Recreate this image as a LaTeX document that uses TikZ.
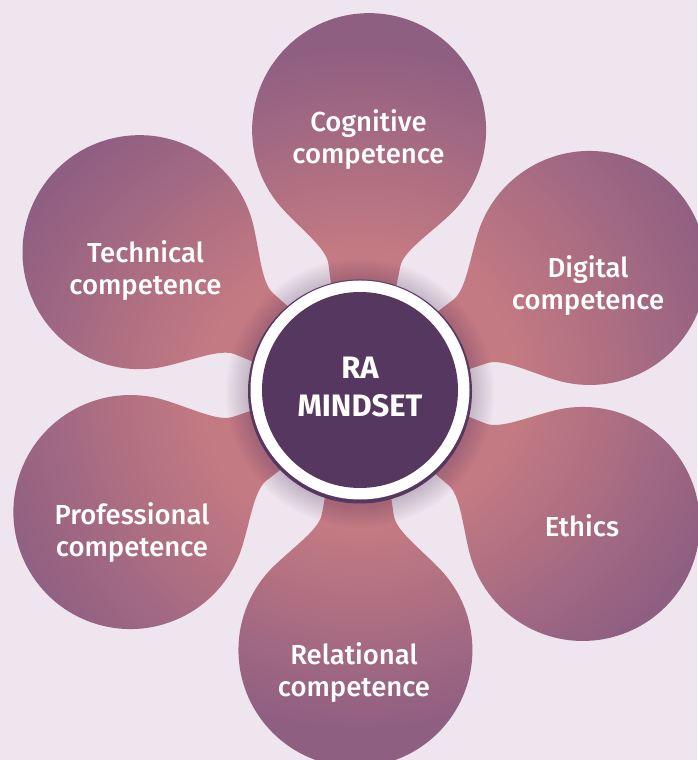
\documentclass[tikz,border=0pt]{standalone}
\usepackage{fontspec}
\setmainfont{Fira Sans}[UprightFont=* Medium, BoldFont=* Bold]
\definecolor{bgc}{HTML}{EFE5EE}
\definecolor{petpink}{HTML}{C47A82}
\definecolor{petpurple}{HTML}{8F5F82}
\definecolor{diskc}{HTML}{553760}
\pgfdeclareradialshading{petalshade}{\pgfpointorigin}{color(0bp)=(petpink); color(8.5bp)=(petpink); color(21bp)=(petpurple); color(50bp)=(petpurple)}
\begin{document}
\begin{tikzpicture}[x=1pt,y=1pt,
  lbl/.style={text=white, font=\fontsize{27.5}{32}\selectfont, align=center, inner sep=0pt},
  hubtext/.style={text=white, font=\fontsize{31}{38.5}\selectfont\bfseries, align=center, inner sep=0pt},
  hub/.style={circle, fill=diskc, minimum size=196pt, inner sep=0pt},
  shadowring/.style={fill=diskc, opacity=0.024}]
\useasboundingbox (0,0) rectangle (697,760);
\fill[bgc] (0,0) rectangle (697,760);
% petals
\foreach \a in {88,28,-31,-91,208,148}{
  \begin{scope}[shift={(360,370)}, rotate=\a]
    \clip (95,31) -- (125,36) .. controls (140,38.5) and (157.3,62.7) .. (177.3,82.7)
      arc[start angle=135, end angle=-135, radius=117]
      .. controls (157.3,-62.7) and (140,-38.5) .. (125,-36) -- (95,-31) -- cycle;
    \shade[shading=petalshade] (0,0) circle (400pt);
  \end{scope}
}
% shadow around hub
\foreach \i in {1,...,12}{
  \fill[shadowring] (360,367) circle ({110+2*\i});
}
% hub ring
\fill[diskc] (360,368.5) circle (112pt);
\fill[white] (360,370) circle (109.5pt);
\node[hub] (hub) at (360,370) {};
\node[hubtext] (hubtxt) at (360,373) {RA\\MINDSET};
% labels
\node[lbl] (cog) at (368.5,620) {Cognitive\\competence};
\node[lbl] (dig) at (588,474) {Digital\\competence};
\node[lbl] (eth) at (582,234.5) {Ethics};
\node[lbl] (rel) at (354,87.5) {Relational\\competence};
\node[lbl] (pro) at (132,227.5) {Professional\\competence};
\node[lbl] (tec) at (145.5,489) {Technical\\competence};
\end{tikzpicture}
\end{document}
